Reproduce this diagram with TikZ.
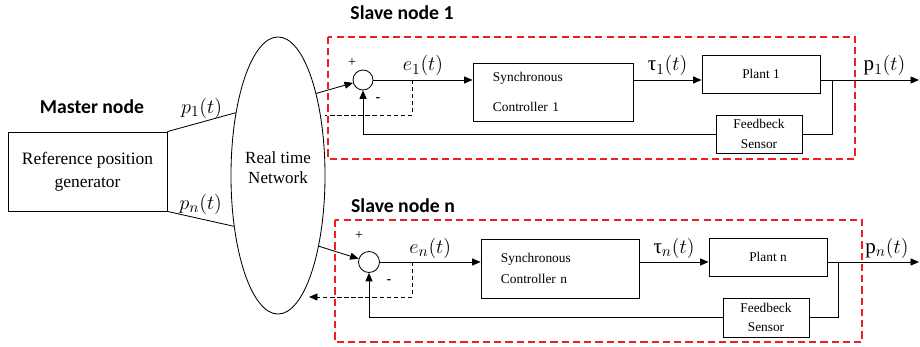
\documentclass[tikz,border=0pt]{standalone}
\usepackage{fontspec}
\setmainfont{LiberationSerif}[Extension=.ttf, UprightFont=*-Regular, BoldFont=*-Bold, ItalicFont=*-Italic, BoldItalicFont=*-BoldItalic]
\newfontfamily\headfont{Carlito}
\usetikzlibrary{positioning}
\usetikzlibrary{shapes.geometric}
\usetikzlibrary{arrows.meta}

\begin{document}
\begin{tikzpicture}[
        x=0.025cm, y=-0.025cm,
        >={Triangle[length=6pt,width=5pt]},
        every node/.style={inner sep=0pt},
        wire/.style={line width=0.6pt},
        block/.style={draw, wire, font=\rmfamily\fontsize{9.5}{12}\selectfont},
        sumpt/.style={circle, draw, wire, minimum size=0.5cm},
        headtext/.style={font=\headfont\bfseries\fontsize{14}{16}\selectfont},
        sig/.style={inner sep=2.5pt, font=\fontsize{15}{17}\selectfont},
        sign/.style={font=\fontsize{10}{12}\selectfont},
        tapline/.style={line width=0.6pt, dash pattern=on 3pt off 2pt},
        slavebox/.style={draw=slavered, line width=1.3pt, dash pattern=on 5pt off 3pt},
    ]
        % Colours
        \definecolor{slavered}{RGB}{240,30,30}
        \useasboundingbox (0,0) rectangle (920,347);

        % Master node
        \node[headtext] (mtitle) at (92,107) {Master node};
        \node[draw, wire, minimum width=3.975cm, minimum height=1.975cm, align=center,
              font=\rmfamily\fontsize{12.4}{16.3}\selectfont] (ref) at (87.5,171.5) {Reference position\\generator};

        % Network
        \node[ellipse, draw, wire, minimum width=2.35cm, minimum height=6.925cm, align=center,
              font=\rmfamily\fontsize{12.1}{14.2}\selectfont] (net) at (278,175.5) {Real time\\Network\\[-3pt]};

        \draw[wire] (ref.north east) -- node[sig, above] {$p_1(t)$} (net.124);
        \draw[wire] (ref.south east) -- node[sig, above] {$p_n(t)$} (net.229);

        % Slave node 1
        \draw[slavebox] (328,37) rectangle (855,159);
        \node[headtext] (s1title) at (402,13) {Slave node 1};
        \node[sumpt] (sum1) at (363,80) {};
        \node[sign] (plus1) at (352,63) {+};
        \node[sign] (minus1) at (378,100) {\bfseries -};
        \node[block, minimum width=4cm, minimum height=1.45cm, text width=3cm, align=left] (ctl1) at (553,92) {Synchronous\\[9pt]Controller 1};
        \node[block, minimum width=2.95cm, minimum height=0.95cm] (pl1) at (761,74) {Plant 1};
        \node[block, minimum width=2.15cm, minimum height=0.95cm, align=center] (fs1) at (759,134) {Feedbeck\\[2pt]Sensor};
        \coordinate (e1tap) at (412,80);
        \coordinate (ret1) at (325,115);
        \coordinate (tap1) at (832,80);
        \coordinate (out1) at (919,80);

        \draw[->, wire] (net.65) -- (sum1);
        \draw[->, wire] (sum1.east) -- node[sig, above] {$e_1(t)$} (sum1.east -| ctl1.west);
        \draw[->, wire] (sum1 -| ctl1.east) -- node[sig, above] {τ$_1(t)$} (sum1 -| pl1.west);
        \draw[->, wire] (sum1 -| pl1.east) -- node[sig, above, pos=0.65] {$\mathrm{p}_1(t)$} (out1);
        \draw[wire] (tap1) |- (fs1.east);
        \draw[->, wire] (fs1.west) -| (sum1.south);
        \draw[tapline] (e1tap) |- (ret1);

        % Slave node n
        \draw[slavebox] (335,220) rectangle (862,342);
        \node[headtext] (sntitle) at (403,206) {Slave node n};
        \node[sumpt, minimum size=0.525cm] (sumn) at (369,262) {};
        \node[sign] (plusn) at (359,236) {+};
        \node[sign] (minusn) at (389,282) {\bfseries -};
        \node[block, minimum width=3.95cm, minimum height=1.475cm, text width=2.95cm, align=left] (ctln) at (560,268.5) {Synchronous\\[3pt]Controller n};
        \node[block, minimum width=2.95cm, minimum height=0.95cm] (pln) at (768,257) {Plant n};
        \node[block, minimum width=2.15cm, minimum height=0.975cm, align=center] (fsn) at (766,317.5) {Feedbeck\\[2pt]Sensor};
        \coordinate (entap) at (412,262);
        \coordinate (retn) at (309,297);
        \coordinate (tapn) at (838,262);
        \coordinate (outn) at (919,262);

        \draw[->, wire] (net.300) -- (sumn);
        \draw[->, wire] (sumn.east) -- node[sig, above] {$e_n(t)$} (sumn.east -| ctln.west);
        \draw[->, wire] (sumn -| ctln.east) -- node[sig, above] {τ$_n(t)$} (sumn -| pln.west);
        \draw[->, wire] (sumn -| pln.east) -- node[sig, above, pos=0.65] {$\mathrm{p}_n(t)$} (outn);
        \draw[wire] (tapn) |- (fsn.east);
        \draw[->, wire] (fsn.west) -| (sumn.south);
        \draw[->, tapline] (entap) |- (retn);

    \end{tikzpicture}
\end{document}
